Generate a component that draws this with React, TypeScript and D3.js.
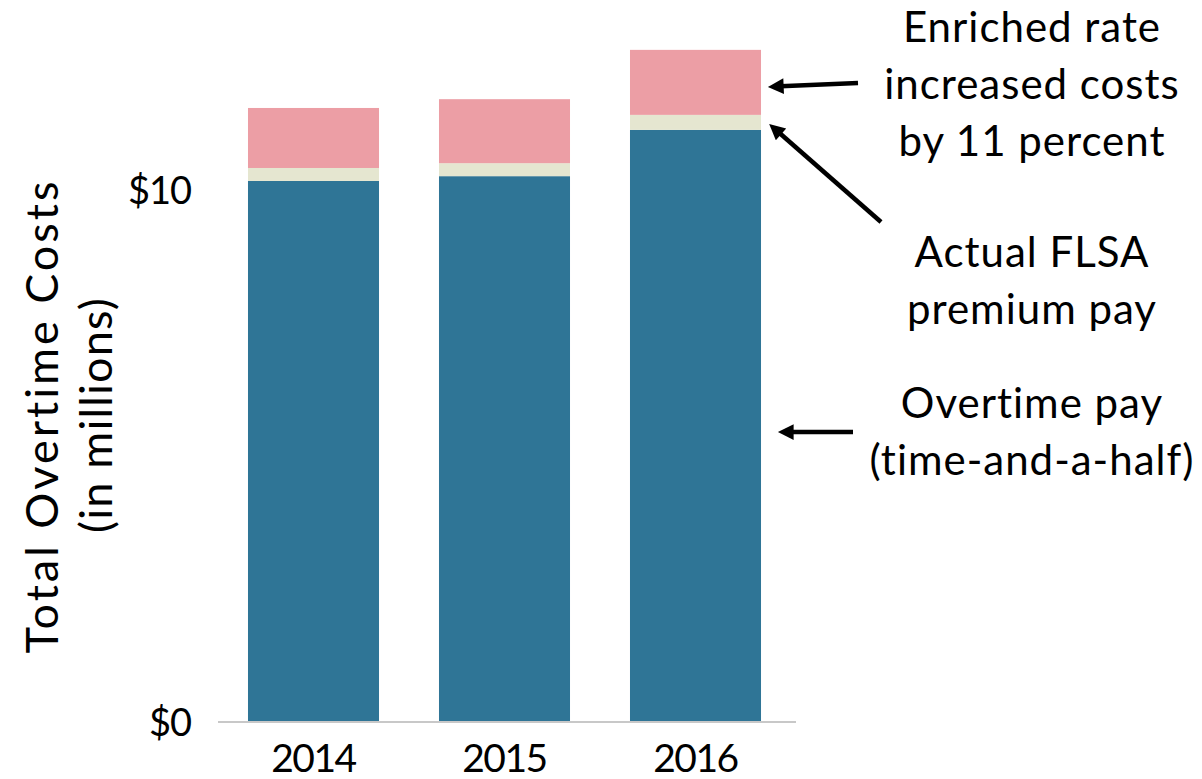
import React from "react";
import * as d3 from "d3";

const years = ["2014", "2015", "2016"];
const overtimePay = [10.17, 10.26, 11.13];
const flsaPremium = [0.244, 0.244, 0.282];
const enrichedIncrease = [1.128, 1.203, 1.222];
const yTicks = [0, 10];
const seriesKeys = ["overtime", "flsa", "enriched"];
const seriesColors = ["#2F7596", "#E5E6D0", "#EC9EA5"];

const W = 1202;
const H = 779;
const FONT = "Lato, 'Open Sans', sans-serif";

export default function App() {
  const x = d3.scaleBand<string>().domain(years).range([218, 791]).paddingInner(0.314).paddingOuter(0.157);
  const y = d3.scaleLinear().domain([0, 10]).range([722, 190]);

  const rows = years.map((yr, i) => ({
    year: yr,
    overtime: overtimePay[i],
    flsa: flsaPremium[i],
    enriched: enrichedIncrease[i],
  }));
  const stack = d3.stack<any>().keys(seriesKeys)(rows);

  const arrows = [
    { x1: 858, y1: 83, x2: 765, y2: 87 },
    { x1: 881, y1: 222, x2: 767, y2: 122 },
    { x1: 853, y1: 432, x2: 775, y2: 432 },
  ];

  const annot = [
    { lines: ["Enriched rate", "increased costs", "by 11 percent"], y0: 42 },
    { lines: ["Actual FLSA", "premium pay"], y0: 267 },
    { lines: ["Overtime pay", "(time-and-a-half)"], y0: 418 },
  ];

  return (
    <svg width={W} height={H} style={{ display: "block", position: "absolute", left: 0, top: 0 }}>
      <defs>
        <marker id="ah" viewBox="0 0 10 10" refX="2" refY="5" markerWidth="4.3" markerHeight="3.5" orient="auto" markerUnits="strokeWidth">
          <path d="M0,0 L10,5 L0,10 Z" fill="#000" />
        </marker>
      </defs>
      <rect width={W} height={H} fill="#fff" />
      {stack.map((s, si) => (
        <g key={si} fill={seriesColors[si]}>
          {s.map((d, i) => (
            <rect
              key={i}
              x={x(years[i])}
              width={x.bandwidth()}
              y={y(d[1])}
              height={y(d[0]) - y(d[1])}
            />
          ))}
        </g>
      ))}
      <line x1={218} x2={796} y1={y(0)} y2={y(0)} stroke="#c8c8c8" strokeWidth={2} />
      {yTicks.map((t) => (
        <text key={t} x={191} y={y(t)} dy="0.36em" textAnchor="end" fontFamily={FONT} fontSize={38} letterSpacing={-1} fill="#000">
          {"$" + t}
        </text>
      ))}
      {years.map((yr) => (
        <text key={yr} x={(x(yr) as number) + x.bandwidth() / 2} y={772} textAnchor="middle" fontFamily={FONT} fontSize={39} letterSpacing={-1.5} fill="#000">
          {yr}
        </text>
      ))}
      <g transform="translate(58,416) rotate(-90)">
        <text x={0} y={0} textAnchor="middle" fontFamily={FONT} fontSize={45} letterSpacing={3} fill="#000">
          Total Overtime Costs
        </text>
      </g>
      <g transform="translate(112,415) rotate(-90)">
        <text x={0} y={0} textAnchor="middle" fontFamily={FONT} fontSize={45} letterSpacing={1.2} fill="#000">
          (in millions)
        </text>
      </g>
      {arrows.map((a, i) => {
        const dx = a.x2 - a.x1;
        const dy = a.y2 - a.y1;
        const len = Math.sqrt(dx * dx + dy * dy);
        const sx = a.x2 - (dx / len) * 15.5;
        const sy = a.y2 - (dy / len) * 15.5;
        return (
          <line key={i} x1={a.x1} y1={a.y1} x2={sx} y2={sy} stroke="#000" strokeWidth={4.5} markerEnd="url(#ah)" />
        );
      })}
      {annot.map((g, gi) =>
        g.lines.map((l, li) => (
          <text key={gi + "-" + li} x={1032} y={g.y0 + li * 57} textAnchor="middle" fontFamily={FONT} fontSize={42} letterSpacing={1} fill="#000">
            {l}
          </text>
        ))
      )}
    </svg>
  );
}
